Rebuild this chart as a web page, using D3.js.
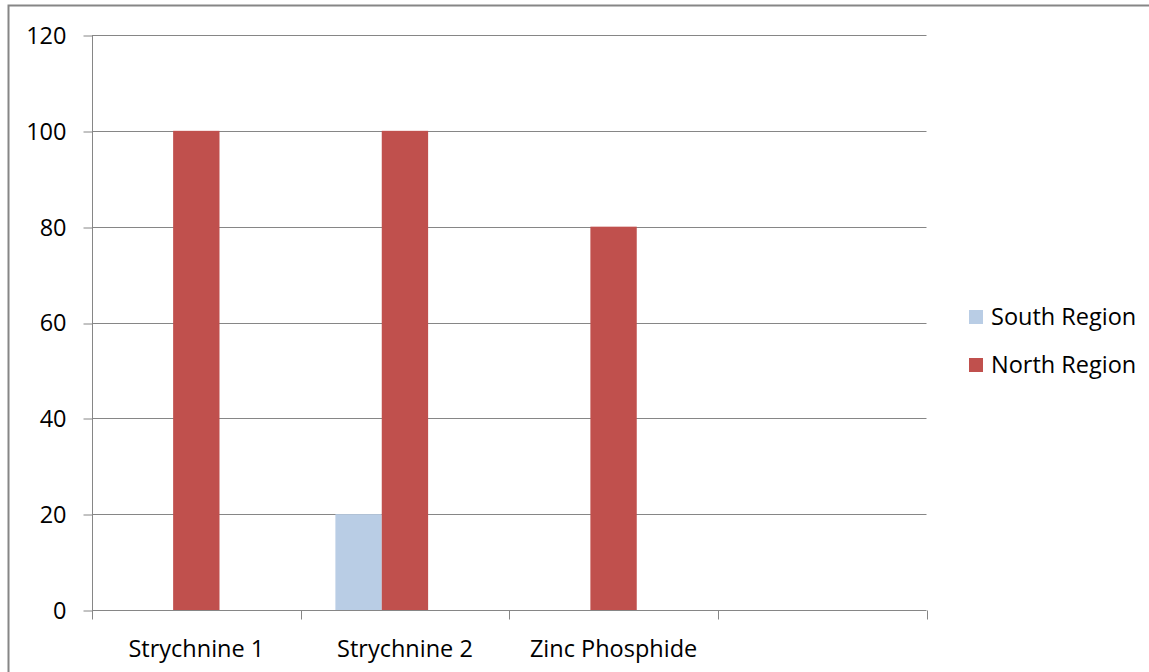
<!DOCTYPE html>
<html>
<head>
<meta charset="utf-8">
<script src="https://cdn.jsdelivr.net/npm/d3@7"></script>
<style>
  html, body { margin: 0; padding: 0; background: #fff; overflow: hidden; }
  svg { display: block; }
  text { font-family: "Open Sans", "Liberation Sans", sans-serif; fill: #000; }
</style>
</head>
<body>
<svg id="chart" width="1149" height="672"></svg>
<script>
// Bait sampling results by product and region
const categories = ["Strychnine 1", "Strychnine 2", "Zinc Phosphide", ""];
const seriesNames = ["South Region", "North Region"];
const southValues = [null, 20, null, null];
const northValues = [100, 100, 80, null];
const yTicks = [0, 20, 40, 60, 80, 100, 120];

const seriesColors = { "South Region": "#b9cde5", "North Region": "#c0504d" };
const seriesValues = { "South Region": southValues, "North Region": northValues };

const svg = d3.select("#chart");
const gridColor = "#868686";
const fontSize = 23.5;

// chart frame
svg.append("path")
  .attr("d", "M8.5,672 V5.5 H1149")
  .attr("fill", "none")
  .attr("stroke", gridColor)
  .attr("stroke-width", 2);

const plot = { left: 92, right: 926.5, top: 35, bottom: 610 };

const y = d3.scaleLinear().domain([0, 120]).range([plot.bottom, plot.top]);
const x0 = d3.scaleBand().domain(categories).range([plot.left, plot.right]).padding(0);
// each cluster keeps room for three bars, with 150% gap width
const x1 = d3.scaleBand().domain(d3.range(3)).range([0, x0.bandwidth()])
  .paddingInner(0).paddingOuter(0.75);

// horizontal gridlines
svg.append("g").selectAll("line")
  .data(yTicks.filter(v => v > 0))
  .join("line")
  .attr("x1", plot.left).attr("x2", plot.right)
  .attr("y1", d => Math.round(y(d)) + 0.5).attr("y2", d => Math.round(y(d)) + 0.5)
  .attr("stroke", gridColor).attr("stroke-width", 1);

// bars
const rows = categories.map((c, i) => ({ cat: c, i }));
seriesNames.forEach((name, si) => {
  svg.append("g").selectAll("rect")
    .data(rows.filter(r => seriesValues[name][r.i] != null))
    .join("rect")
    .attr("x", r => x0(r.cat) + x1(si))
    .attr("width", x1.bandwidth())
    .attr("y", r => y(seriesValues[name][r.i]))
    .attr("height", r => y(0) - y(seriesValues[name][r.i]))
    .attr("fill", seriesColors[name]);
});

// y axis
const yAxis = svg.append("g")
  .attr("transform", `translate(${plot.left + 0.5},0)`)
  .call(d3.axisLeft(y).tickValues(yTicks).tickSize(9).tickPadding(17).tickFormat(d3.format("d")));
yAxis.selectAll("path.domain").attr("stroke", gridColor).attr("d", `M0,${plot.top}V${plot.bottom}`);
yAxis.selectAll(".tick line").attr("stroke", gridColor)
  .attr("transform", d => `translate(0,${Math.round(y(d)) + 0.5 - y(d)})`);
yAxis.selectAll(".tick text")
  .attr("font-size", fontSize).attr("font-family", null).attr("fill", "#000").attr("dy", "0.36em");

// x axis
const xBase = Math.round(y(0)) + 0.5;
const xAxis = svg.append("g").attr("transform", `translate(0,${xBase})`);
xAxis.append("line")
  .attr("x1", plot.left).attr("x2", plot.right)
  .attr("stroke", gridColor);
const boundaries = categories.map(c => x0(c)).concat([x0(categories[categories.length - 1]) + x0.bandwidth()]);
xAxis.selectAll("line.tick")
  .data(boundaries)
  .join("line")
  .attr("class", "tick")
  .attr("x1", d => Math.round(d) + 0.5).attr("x2", d => Math.round(d) + 0.5)
  .attr("y1", 0).attr("y2", 9)
  .attr("stroke", gridColor);
xAxis.selectAll("text")
  .data(categories)
  .join("text")
  .attr("x", d => x0(d) + x0.bandwidth() / 2)
  .attr("y", 46)
  .attr("text-anchor", "middle")
  .attr("font-size", fontSize)
  .text(d => d);

// legend
const legend = svg.append("g").attr("transform", "translate(969,310)");
seriesNames.forEach((name, i) => {
  const g = legend.append("g").attr("transform", `translate(0,${i * 48})`);
  g.append("rect").attr("width", 14).attr("height", 14).attr("fill", seriesColors[name]);
  g.append("text").attr("x", 22).attr("y", 14.5).attr("font-size", fontSize).text(name);
});
</script>
</body>
</html>
